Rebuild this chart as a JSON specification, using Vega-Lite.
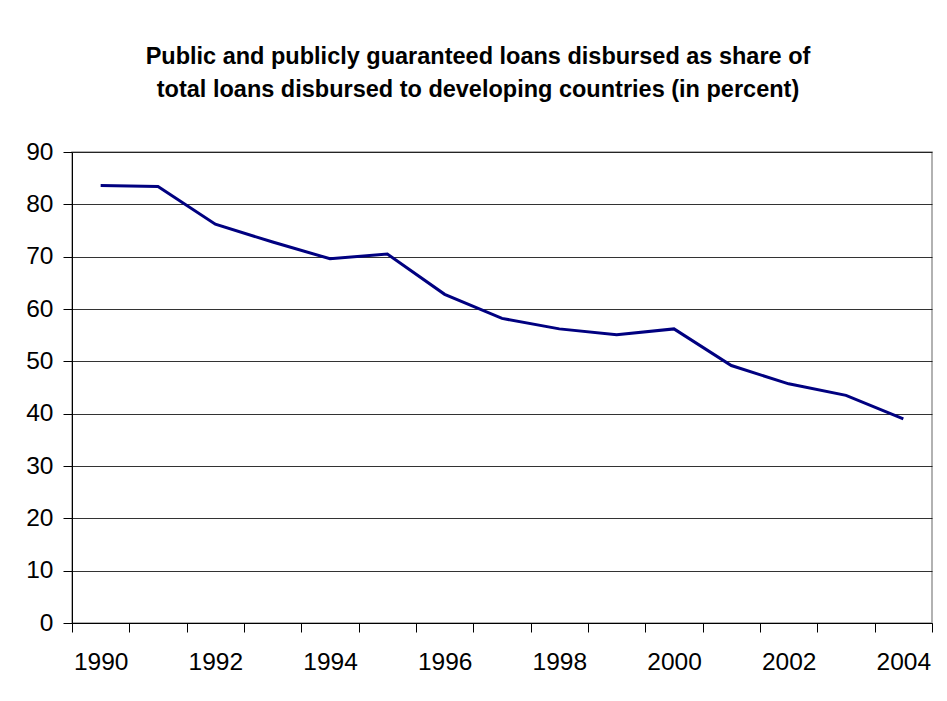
{
  "$schema": "https://vega.github.io/schema/vega-lite/v6.json",
  "width": 860,
  "height": 471,
  "autosize": "none",
  "padding": {"left": 72, "top": 152, "right": 15, "bottom": 78},
  "background": "white",
  "title": {
    "text": ["Public and publicly guaranteed loans disbursed as share of", "total loans disbursed to developing countries (in percent)"],
    "font": "Liberation Sans",
    "fontSize": 23.5,
    "fontWeight": "bold",
    "color": "black",
    "anchor": "middle",
    "lineHeight": 33,
    "offset": 38,
    "dx": -24
  },
  "data": {
    "values": [
      {"year": 1990, "share": 83.6},
      {"year": 1991, "share": 83.4},
      {"year": 1992, "share": 76.2},
      {"year": 1993, "share": 72.8},
      {"year": 1994, "share": 69.6},
      {"year": 1995, "share": 70.5},
      {"year": 1996, "share": 62.8},
      {"year": 1997, "share": 58.2},
      {"year": 1998, "share": 56.2},
      {"year": 1999, "share": 55.1},
      {"year": 2000, "share": 56.2},
      {"year": 2001, "share": 49.2},
      {"year": 2002, "share": 45.7},
      {"year": 2003, "share": 43.5},
      {"year": 2004, "share": 39.0}
    ]
  },
  "mark": {"type": "line", "color": "#000080", "strokeWidth": 3},
  "encoding": {
    "x": {
      "field": "year",
      "type": "ordinal",
      "bandPosition": 0.5,
      "scale": {"type": "band", "paddingInner": 0, "paddingOuter": 0},
      "axis": {
        "title": null,
        "labelAngle": 0,
        "tickBand": "extent",
        "labelExpr": "datum.value % 2 == 0 ? datum.label : ''",
        "labelFont": "Liberation Sans",
        "labelFontSize": 24.5,
        "labelColor": "black",
        "labelPadding": 18,
        "tickSize": 9,
        "tickColor": "black",
        "domainColor": "black",
        "grid": false
      }
    },
    "y": {
      "field": "share",
      "type": "quantitative",
      "scale": {"domain": [0, 90], "nice": false},
      "axis": {
        "title": null,
        "values": [0, 10, 20, 30, 40, 50, 60, 70, 80, 90],
        "labelFont": "Liberation Sans",
        "labelFontSize": 24.5,
        "labelColor": "black",
        "labelPadding": 10,
        "tickSize": 9,
        "tickColor": "black",
        "domainColor": "black",
        "gridColor": "black",
        "gridOpacity": 0.8,
        "gridWidth": 1
      }
    }
  },
  "config": {
    "view": {"stroke": "#999999", "strokeWidth": 1.5}
  }
}
